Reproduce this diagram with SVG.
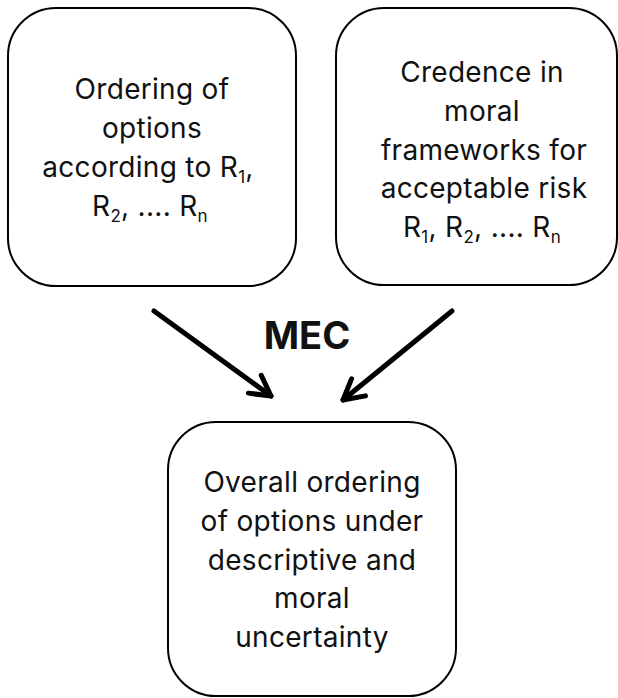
<svg xmlns="http://www.w3.org/2000/svg" width="618" height="698" viewBox="0 0 618 698">
<style>
.box{fill:#fff;stroke:#000;stroke-width:2}
.t{font-family:Inter,"Open Sans","Liberation Sans",sans-serif;font-size:28px;letter-spacing:0.3px;fill:#111;text-anchor:middle}
.s{font-size:17px}
.lbl{font-family:Inter,"Liberation Sans",sans-serif;font-size:38px;font-weight:bold;fill:#111;text-anchor:middle}
.arr{fill:none;stroke:#000;stroke-width:5;stroke-linecap:round}
</style>
<defs>
<marker id="ah" markerUnits="userSpaceOnUse" markerWidth="40" markerHeight="40" refX="0" refY="0" orient="auto" overflow="visible" viewBox="-30 -20 40 40">
<path d="M-20,-11 L0,0 L-20,11" fill="none" stroke="#000" stroke-width="5" stroke-linecap="round" stroke-linejoin="round"/>
</marker>
</defs>
<rect width="618" height="698" fill="#fff"/>
<g id="node-ordering">
<rect class="box" x="8" y="8" width="288" height="278" rx="48"/>
<text class="t" x="152" y="99">Ordering of</text>
<text class="t" x="152" y="138">options</text>
<text class="t" x="148" y="177">according to R<tspan class="s" dy="6">1</tspan><tspan dy="-6">,</tspan></text>
<text class="t" x="150" y="216">R<tspan class="s" dy="6">2</tspan><tspan dy="-6">, .... R</tspan><tspan class="s" dy="6">n</tspan></text>
</g>
<g id="node-credence">
<rect class="box" x="336" y="8" width="281" height="277" rx="48"/>
<text class="t" x="482" y="82">Credence in</text>
<text class="t" x="482" y="121">moral</text>
<text class="t" x="484" y="160">frameworks for</text>
<text class="t" x="484" y="198">acceptable risk</text>
<text class="t" x="482" y="237">R<tspan class="s" dy="6">1</tspan><tspan dy="-6">, R</tspan><tspan class="s" dy="6">2</tspan><tspan dy="-6">, .... R</tspan><tspan class="s" dy="6">n</tspan></text>
</g>
<g id="node-overall">
<rect class="box" x="168" y="422" width="288" height="274" rx="48"/>
<text class="t" x="312" y="492">Overall ordering</text>
<text class="t" x="312" y="531">of options under</text>
<text class="t" x="312" y="570">descriptive and</text>
<text class="t" x="312" y="608">moral</text>
<text class="t" x="312" y="647">uncertainty</text>
</g>
<g id="connectors">
<line class="arr" x1="154" y1="311" x2="271" y2="396" marker-end="url(#ah)"/>
<line class="arr" x1="452" y1="311" x2="343" y2="400" marker-end="url(#ah)"/>
<text class="lbl" x="307" y="349">MEC</text>
</g>
</svg>
